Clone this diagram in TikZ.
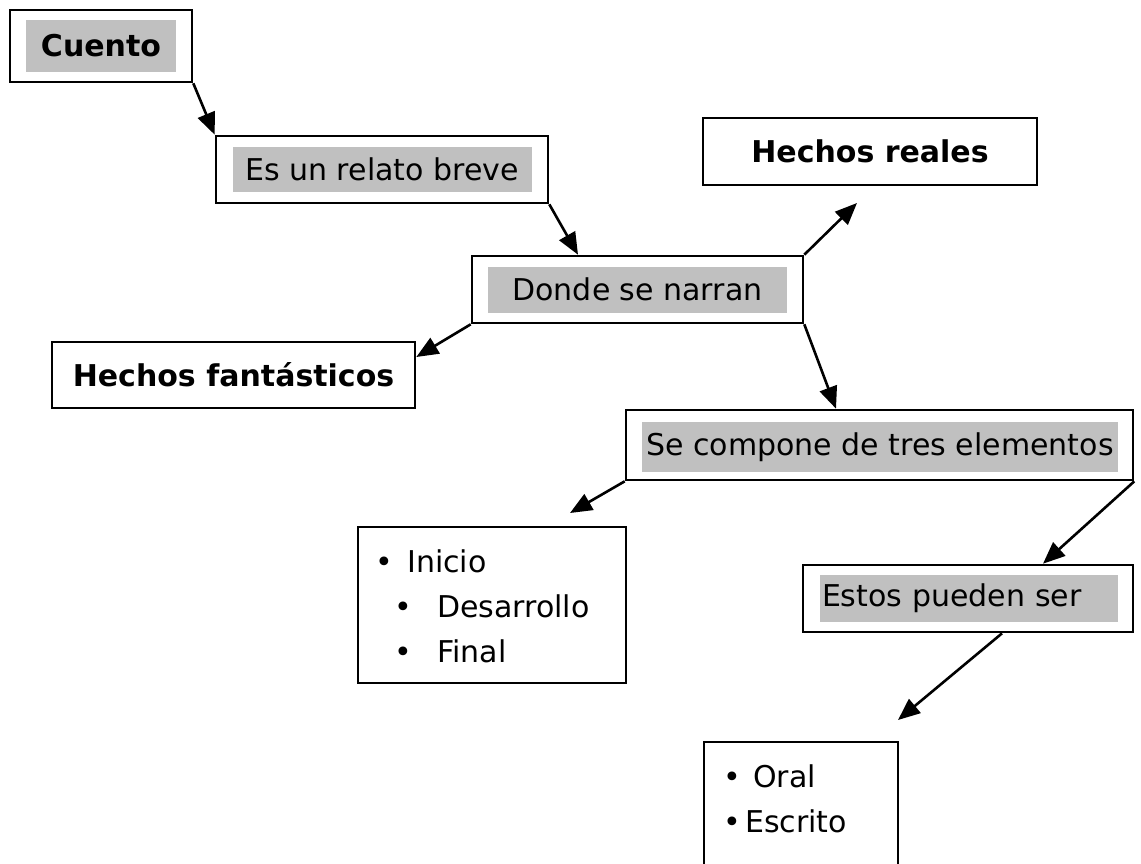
\documentclass[tikz,border=0pt]{standalone}
\usepackage{fontspec}
\setmainfont{DejaVu Sans}
\usetikzlibrary{arrows.meta, positioning}
\definecolor{labelgray}{HTML}{C0C0C0}

\begin{document}
\begin{tikzpicture}[x=1pt, y=-1pt,
        box/.style={draw, line width=2.6pt, inner sep=0pt},
        shade/.style={fill=labelgray, inner sep=0pt},
        link/.style={line width=2.6pt, -{Triangle[length=22pt, width=18pt]}},
        item/.style={anchor=base west, inner sep=0pt},
        font=\fontsize{30}{45}\selectfont]
    \clip (0,0) rectangle (1141,863);
    \fill[white] (0,0) rectangle (1141,863);

    % boxes
    \node[box, minimum width=182pt, minimum height=72pt] (cuento) at (101,46) {};
    \node[shade, minimum width=150pt, minimum height=52pt, font=\fontsize{30}{45}\selectfont\bfseries] at (cuento) {Cuento};

    \node[box, minimum width=332pt, minimum height=67pt] (relato) at (382,169.5) {};
    \node[shade, minimum width=299pt, minimum height=45pt] at (relato) {Es un relato breve};

    \node[box, minimum width=334pt, minimum height=67pt, font=\fontsize{30}{45}\selectfont\bfseries] (reales) at (870,151.5) {Hechos reales};

    \node[box, minimum width=331pt, minimum height=67pt] (donde) at (637.5,289.5) {};
    \node[shade, minimum width=299pt, minimum height=46pt] at (donde) {Donde se narran};

    \node[box, minimum width=363pt, minimum height=66pt, font=\fontsize{30}{45}\selectfont\bfseries] (fantasticos) at (233.5,375) {Hechos fantásticos};

    \node[box, minimum width=507pt, minimum height=70pt] (compone) at (879.5,445) {};
    \node[shade, minimum width=476pt, minimum height=50pt] at (880,447) {Se compone de tres elementos};

    \node[box, minimum width=268pt, minimum height=156pt] (inicio) at (492,605) {};
    \node[item] (inicio1) at (375,572) {\makebox[32pt][l]{\textbullet}Inicio};
    \node[item] (inicio2) at (394,617) {\makebox[43pt][l]{\textbullet}Desarrollo};
    \node[item] (inicio3) at (394,662) {\makebox[43pt][l]{\textbullet}Final};

    \node[box, minimum width=330pt, minimum height=67pt] (estos) at (968,598.5) {};
    \node[shade, minimum width=298pt, minimum height=47pt, text width=294pt, inner xsep=2pt, align=left] at (969,598.5) {Estos pueden ser};

    \node[box, minimum width=194pt, minimum height=180pt] (oral) at (801,832) {};
    \node[item] (oral1) at (723,787) {\makebox[30pt][l]{\textbullet}Oral};
    \node[item] (oral2) at (723,832) {\makebox[22pt][l]{\textbullet}Escrito};

    % arrow tips left free
    \coordinate (realestip) at (857,203);
    \coordinate (iniciotip) at (570,513);
    \coordinate (oraltip) at (898,720);

    % arrows
    \draw[link] (cuento.south east) -- (relato.north west);
    \draw[link] (relato.south east) -- ([xshift=-59.5pt]donde.north);
    \draw[link] (donde.north east) -- (realestip);
    \draw[link] (donde.south west) -- ([yshift=18pt]fantasticos.east);
    \draw[link] (donde.south east) -- ([xshift=-43.5pt]compone.north);
    \draw[link] (compone.south west) -- (iniciotip);
    \draw[link] (compone.south east) -- ([xshift=75pt]estos.north);
    \draw[link] ([xshift=34pt]estos.south) -- (oraltip);
\end{tikzpicture}
\end{document}
